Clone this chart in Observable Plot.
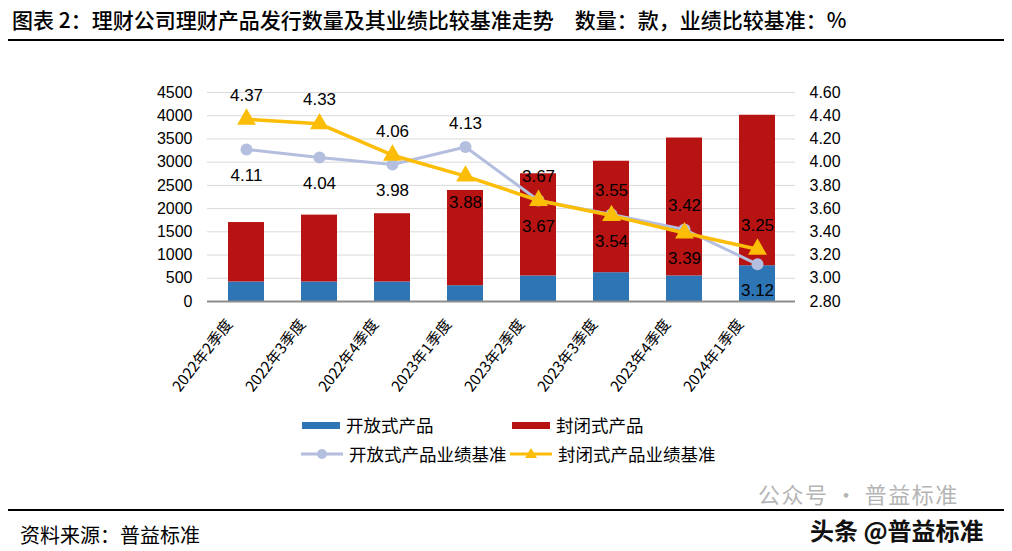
<!DOCTYPE html>
<html>
<head>
<meta charset="utf-8">
<script src="https://cdn.jsdelivr.net/npm/d3@7"></script>
<script src="https://cdn.jsdelivr.net/npm/@observablehq/plot@0.6"></script>
<style>
  html, body { margin: 0; padding: 0; background: #fff; }
  #wrap { position: relative; width: 1012px; height: 551px; overflow: hidden; font-family: "Noto Sans CJK SC", "Noto Sans", sans-serif; color: #000; }
  .abs { position: absolute; }
  #title { left: 12px; top: 4px; font-size: 21px; font-weight: 500; white-space: nowrap; letter-spacing: 0px; }
  .hline { position: absolute; left: 8px; width: 996px; height: 2px; background: #000; }
  #chart { position: absolute; left: 0; top: 45px; }
  .leg { position: absolute; font-size: 17.5px; white-space: nowrap; line-height: 1; display: flex; align-items: center; }
  .leg svg { margin-right: 6px; }
  #source { left: 20px; top: 520px; font-size: 20px; white-space: nowrap; }
  #wm1 { left: 758px; top: 482px; font-size: 22px; line-height: 1; color: #b5b5b5; white-space: nowrap; letter-spacing: 1.5px; }
  #wm2 { left: 810px; top: 518px; font-size: 24px; line-height: 1; color: #111; font-weight: 700; white-space: nowrap; text-shadow: 0 0 2px #fff, 0 0 2px #fff; }
</style>
</head>
<body>
<div id="wrap">
  <div id="title" class="abs"></div>
  <div class="hline" style="top:39px"></div>
  <div id="chart"></div>
  <div id="legend"></div>
  <div id="wm1" class="abs"></div>
  <div class="hline" style="top:509px"></div>
  <div id="wm2" class="abs"></div>
  <div id="source" class="abs"></div>
</div>
<script>
// ---- data ----
const titleText = "图表 2：理财公司理财产品发行数量及其业绩比较基准走势　数量：款，业绩比较基准：%";
const sourceText = "资料来源：普益标准";
const watermark1 = "公众号 · 普益标准";
const watermark2 = "头条 @普益标准";
const categories = ["2022年2季度", "2022年3季度", "2022年4季度", "2023年1季度", "2023年2季度", "2023年3季度", "2023年4季度", "2024年1季度"];
const seriesNames = ["开放式产品", "封闭式产品", "开放式产品业绩基准", "封闭式产品业绩基准"];
const openCount = [420, 420, 420, 340, 550, 620, 550, 770];
const closedCount = [1280, 1440, 1470, 2050, 2200, 2400, 2970, 3240];
const openRate = [4.11, 4.04, 3.98, 4.13, 3.67, 3.55, 3.42, 3.12];
const closedRate = [4.37, 4.33, 4.06, 3.88, 3.67, 3.54, 3.39, 3.25];
const leftTicks = [0, 500, 1000, 1500, 2000, 2500, 3000, 3500, 4000, 4500];
const rightTicks = [2.8, 3.0, 3.2, 3.4, 3.6, 3.8, 4.0, 4.2, 4.4, 4.6];
const colors = ["#2e75b6", "#b81313", "#b4bedf", "#fbbd07"];

// ---- build ----
document.getElementById("title").textContent = titleText;
document.getElementById("source").textContent = sourceText;
document.getElementById("wm1").textContent = watermark1;
document.getElementById("wm2").textContent = watermark2;

const leftMax = leftTicks[leftTicks.length - 1];
const rMin = rightTicks[0], rMax = rightTicks[rightTicks.length - 1];
const toLeft = r => (r - rMin) / (rMax - rMin) * leftMax;
const fromLeft = v => rMin + v / leftMax * (rMax - rMin);

const barData = [];
categories.forEach((c, i) => barData.push({cat: c, series: seriesNames[0], value: openCount[i]}));
categories.forEach((c, i) => barData.push({cat: c, series: seriesNames[1], value: closedCount[i]}));

const openPts = categories.map((c, i) => ({cat: c, v: openRate[i], y: toLeft(openRate[i])}));
const closedPts = categories.map((c, i) => ({cat: c, v: closedRate[i], y: toLeft(closedRate[i])}));
const labels = [];
categories.forEach((c, i) => {
  const openUp = openRate[i] >= closedRate[i];
  labels.push({cat: c, v: openRate[i], y: toLeft(openRate[i]), up: openUp});
  labels.push({cat: c, v: closedRate[i], y: toLeft(closedRate[i]), up: !openUp});
});
const fmt = v => v.toFixed(2);

const font = "'Liberation Sans', Arial, 'Noto Sans CJK SC', sans-serif";
const chart = Plot.plot({
  width: 1012,
  height: 360,
  marginLeft: 207,
  marginRight: 217,
  marginTop: 47,
  marginBottom: 104,
  style: {fontFamily: font, fontSize: "16px", color: "#000", background: "transparent", overflow: "visible"},
  x: {domain: categories, paddingInner: 0.51, paddingOuter: 0.255, axis: null},
  y: {domain: [0, leftMax], axis: null},
  color: {domain: seriesNames, range: colors},
  marks: [
    Plot.ruleY(leftTicks.slice(1), {stroke: "#d9d9d9", strokeWidth: 1}),
    Plot.barY(barData, {x: "cat", y: "value", fill: "series", z: "series"}),
    Plot.ruleY([0], {stroke: "#8c8c8c", strokeWidth: 2}),
    Plot.axisY(leftTicks, {anchor: "left", tickSize: 0, tickPadding: 15, fontSize: 16, tickFormat: d => String(d)}),
    Plot.axisY(rightTicks.map(toLeft), {anchor: "right", tickSize: 0, tickPadding: 14, fontSize: 16, tickFormat: d => fmt(fromLeft(d))}),
    Plot.line(openPts, {x: "cat", y: "y", stroke: colors[2], strokeWidth: 3}),
    Plot.dot(openPts, {x: "cat", y: "y", r: 6, fill: colors[2], symbol: "circle"}),
    Plot.line(closedPts, {x: "cat", y: "y", stroke: colors[3], strokeWidth: 3.5}),
    Plot.dot(closedPts, {x: "cat", y: "y", r: 7, fill: colors[3], symbol: "triangle"}),
    Plot.text(labels.filter(d => d.up), {x: "cat", y: "y", text: d => fmt(d.v), dy: -24, fontSize: 17, fill: "#000", letterSpacing: 1}),
    Plot.text(labels.filter(d => !d.up), {x: "cat", y: "y", text: d => fmt(d.v), dy: 26, fontSize: 17, fill: "#000", letterSpacing: 1}),
    Plot.text(categories, {x: d => d, y: () => 0, text: d => d, rotate: -52, textAnchor: "end", lineAnchor: "middle", dx: -17, dy: 20, fontSize: 15, fontFamily: "'Noto Sans CJK SC', sans-serif"})
  ]
});
document.getElementById("chart").appendChild(chart);

// ---- legend ----
const legend = document.getElementById("legend");
const legItems = [
  {name: seriesNames[0], color: colors[0], kind: "bar", left: 302, top: 425},
  {name: seriesNames[1], color: colors[1], kind: "bar", left: 512, top: 425},
  {name: seriesNames[2], color: colors[2], kind: "circle", left: 301, top: 454},
  {name: seriesNames[3], color: colors[3], kind: "triangle", left: 510, top: 454}
];
legItems.forEach(it => {
  const div = document.createElement("div");
  div.className = "leg";
  div.style.left = it.left + "px";
  div.style.top = (it.top - 10) + "px";
  div.style.height = "20px";
  let sw;
  if (it.kind === "bar") {
    sw = `<svg width="38" height="20"><rect x="0" y="7" width="38" height="7" fill="${it.color}"/></svg>`;
  } else if (it.kind === "circle") {
    sw = `<svg width="42" height="20"><line x1="0" x2="42" y1="10" y2="10" stroke="${it.color}" stroke-width="3"/><circle cx="21" cy="10" r="5" fill="${it.color}"/></svg>`;
  } else {
    sw = `<svg width="42" height="20"><line x1="0" x2="42" y1="10" y2="10" stroke="${it.color}" stroke-width="3"/><path d="M21,4 L27,14 L15,14 Z" fill="${it.color}"/></svg>`;
  }
  div.innerHTML = sw + `<span>${it.name}</span>`;
  legend.appendChild(div);
});
</script>
</body>
</html>
